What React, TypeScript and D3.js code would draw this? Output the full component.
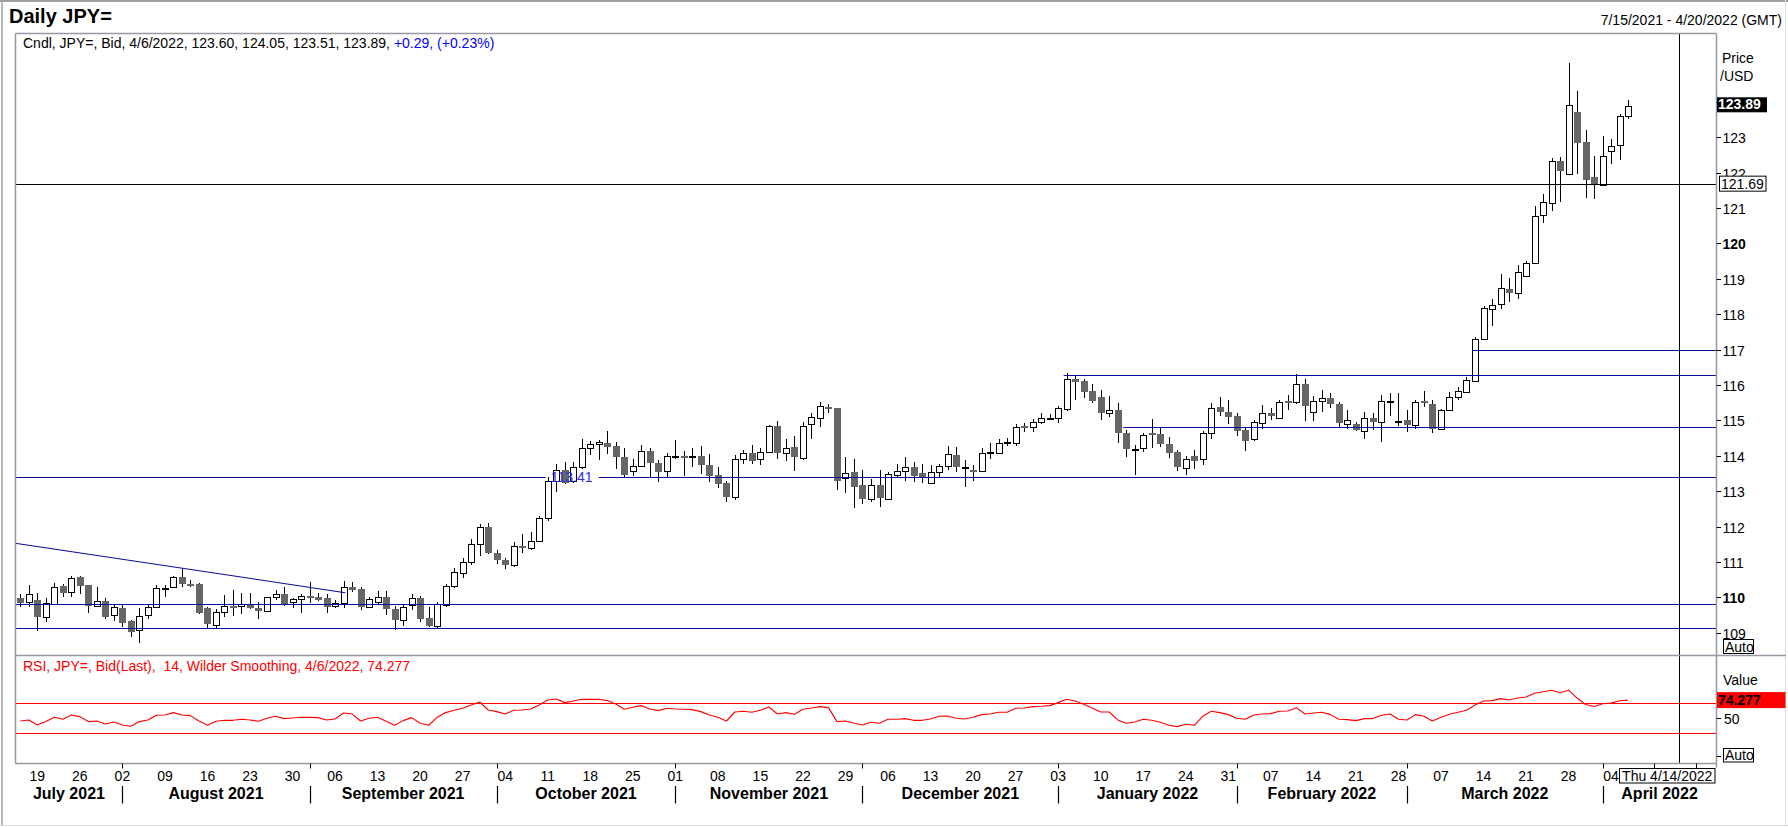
import * as d3 from "d3";

// Daily JPY= bid candles, one entry per weekday starting 7/15/2021
const startDay = new Date(2021, 6, 15);
const endDay = new Date(2022, 3, 20);
const cursorDay = new Date(2022, 3, 14);

const opens = [
  109.97, 109.86, 109.92, 109.43, 109.81, 110.32, 110.14, 110.57, 110.35, 109.75,
  109.89, 109.49, 109.69, 109.32, 109.07, 109.5, 109.74, 110.26, 110.28, 110.56,
  110.39, 110.39, 109.7, 109.22, 109.58, 109.76, 109.75, 109.8, 109.69, 109.62,
  110.0, 110.09, 109.86, 109.94, 110.05, 110.0, 109.97, 109.75, 109.85, 110.28,
  110.23, 109.72, 109.87, 110.0, 109.67, 109.36, 109.78, 109.97, 109.41, 109.2,
  109.78, 110.32, 110.68, 110.99, 111.5, 111.98, 111.26, 111.05, 110.92, 111.45,
  111.4, 111.6, 112.23, 113.29, 113.61, 113.29, 113.67, 114.21, 114.32, 114.36,
  114.27, 113.97, 113.58, 113.71, 114.13, 113.8, 113.58, 113.97, 113.98, 113.97,
  114.0, 113.74, 113.45, 113.24, 112.84, 113.92, 114.07, 113.9, 114.11, 114.84,
  114.07, 114.26, 113.95, 114.91, 115.08, 115.39, 115.36, 113.36, 113.53, 113.17,
  112.77, 113.17, 112.77, 113.45, 113.58, 113.67, 113.5, 113.24, 113.55, 113.72,
  114.02, 113.66, 113.61, 113.58, 114.09, 114.09, 114.37, 114.37, 114.85, 114.81,
  114.95, 115.06, 115.08, 115.31, 116.16, 116.12, 115.83, 115.66, 115.2, 115.29,
  114.63, 114.18, 114.21, 114.64, 114.62, 114.32, 114.1, 113.65, 113.99, 113.9,
  114.63, 115.37, 115.23, 115.12, 114.73, 114.46, 114.94, 115.21, 115.07, 115.54,
  115.51, 116.02, 115.24, 115.54, 115.62, 115.46, 114.91, 114.91, 114.71, 115.08,
  114.96, 115.54, 114.98, 115.01, 114.87, 115.55, 115.46, 114.77, 115.29, 115.67,
  115.81, 116.12, 117.31, 118.16, 118.3, 118.71, 118.59, 119.08, 119.46, 120.8,
  121.13, 122.34, 121.95, 123.71, 122.86, 121.87, 121.64, 122.6, 122.77, 123.6,
];
const highs = [
  110.08, 110.35, 110.11, 109.97, 110.41, 110.37, 110.6, 110.6, 110.36, 110.28,
  109.97, 109.81, 109.78, 109.36, 109.69, 109.81, 110.35, 110.35, 110.6, 110.82,
  110.49, 110.41, 109.73, 109.66, 110.06, 110.22, 110.13, 110.13, 109.88, 110.02,
  110.21, 110.28, 109.97, 110.09, 110.42, 110.11, 110.08, 109.93, 110.47, 110.44,
  110.3, 110.02, 110.18, 110.18, 109.75, 109.81, 110.08, 110.04, 109.73, 109.88,
  110.37, 110.82, 111.1, 111.64, 112.07, 112.11, 111.35, 111.1, 111.55, 111.8,
  111.85, 112.3, 113.41, 113.78, 113.83, 113.83, 114.47, 114.42, 114.44, 114.7,
  114.4, 114.21, 113.92, 114.3, 114.23, 113.88, 114.09, 114.44, 114.13, 114.21,
  114.27, 114.05, 113.69, 113.29, 114.02, 114.16, 114.3, 114.21, 114.87, 114.98,
  114.46, 114.56, 114.96, 115.2, 115.52, 115.46, 115.36, 113.97, 113.9, 113.61,
  113.33, 113.61, 113.55, 113.78, 113.97, 113.81, 113.78, 113.74, 113.76, 114.27,
  114.25, 113.88, 113.74, 114.21, 114.37, 114.46, 114.49, 114.91, 114.93, 115.03,
  115.2, 115.18, 115.4, 116.34, 116.25, 116.18, 116.04, 115.86, 115.68, 115.5,
  114.72, 114.3, 114.63, 115.05, 114.79, 114.54, 114.16, 113.99, 114.16, 114.7,
  115.5, 115.67, 115.59, 115.21, 114.8, 115.01, 115.43, 115.34, 115.59, 115.71,
  116.32, 116.18, 115.69, 115.87, 115.78, 115.53, 115.29, 114.96, 115.24, 115.21,
  115.71, 115.78, 115.78, 115.29, 115.57, 115.83, 115.57, 115.31, 115.81, 115.95,
  116.23, 117.36, 118.23, 118.44, 119.13, 119.01, 119.4, 119.5, 121.05, 121.41,
  122.42, 122.43, 125.11, 124.3, 123.2, 122.46, 123.03, 122.94, 123.67, 124.05,
];
const lows = [
  109.74, 109.72, 109.06, 109.31, 109.8, 110.0, 110.0, 110.09, 109.57, 109.73,
  109.4, 109.34, 109.17, 108.87, 108.72, 109.4, 109.69, 110.02, 110.27, 110.3,
  110.3, 109.54, 109.1, 109.14, 109.45, 109.48, 109.53, 109.66, 109.4, 109.59,
  109.93, 109.76, 109.71, 109.56, 109.85, 109.9, 109.57, 109.69, 109.69, 110.14,
  109.63, 109.69, 109.81, 109.5, 109.08, 109.19, 109.64, 109.3, 109.17, 109.12,
  109.73, 110.26, 110.54, 110.91, 111.17, 111.22, 110.95, 110.8, 110.85, 111.25,
  111.35, 111.55, 112.15, 112.98, 113.2, 113.22, 113.64, 114.02, 113.88, 114.06,
  113.64, 113.41, 113.43, 113.67, 113.39, 113.25, 113.39, 113.92, 113.43, 113.69,
  113.48, 113.27, 113.08, 112.7, 112.75, 113.76, 113.76, 113.75, 114.09, 113.92,
  113.86, 113.58, 113.88, 114.47, 114.82, 115.21, 113.03, 112.95, 112.51, 112.65,
  112.7, 112.54, 112.75, 113.4, 113.29, 113.25, 113.22, 113.22, 113.41, 113.6,
  113.55, 113.12, 113.29, 113.55, 113.92, 114.07, 114.27, 114.27, 114.68, 114.66,
  114.91, 115.0, 114.93, 115.27, 115.57, 115.62, 115.5, 115.01, 115.1, 114.37,
  113.97, 113.45, 114.11, 114.21, 114.24, 113.95, 113.58, 113.45, 113.64, 113.74,
  114.46, 115.12, 114.91, 114.56, 114.14, 114.42, 114.77, 115.01, 115.05, 115.29,
  115.46, 114.99, 114.99, 115.24, 115.34, 114.8, 114.77, 114.71, 114.46, 114.72,
  114.4, 115.12, 114.84, 114.68, 114.77, 115.37, 114.63, 114.75, 115.27, 115.57,
  115.76, 116.08, 117.27, 117.66, 118.16, 118.35, 118.44, 119.04, 119.43, 120.58,
  120.92, 121.17, 121.93, 121.96, 121.29, 121.25, 121.62, 122.24, 122.37, 123.51,
];
const closes = [
  109.85, 110.08, 109.45, 109.85, 110.28, 110.13, 110.54, 110.33, 109.76, 109.9,
  109.45, 109.72, 109.28, 109.03, 109.48, 109.74, 110.25, 110.27, 110.56, 110.37,
  110.38, 109.56, 109.24, 109.58, 109.75, 109.73, 109.81, 109.69, 109.62, 110.0,
  110.08, 109.8, 109.94, 110.03, 110.0, 109.93, 109.74, 109.83, 110.28, 110.21,
  109.72, 109.94, 110.0, 109.67, 109.36, 109.72, 109.97, 109.39, 109.2, 109.8,
  110.32, 110.72, 111.01, 111.5, 111.98, 111.26, 111.05, 110.92, 111.45, 111.4,
  111.6, 112.23, 113.29, 113.61, 113.24, 113.67, 114.21, 114.32, 114.38, 114.25,
  113.97, 113.45, 113.71, 114.14, 113.8, 113.55, 114.0, 113.98, 113.96, 113.98,
  113.74, 113.43, 113.2, 112.84, 113.9, 114.07, 113.86, 114.11, 114.84, 114.07,
  114.23, 113.97, 114.85, 115.1, 115.41, 115.37, 113.29, 113.52, 113.12, 112.77,
  113.17, 112.8, 113.48, 113.58, 113.67, 113.42, 113.39, 113.55, 113.72, 114.04,
  113.69, 113.67, 113.6, 114.09, 114.11, 114.37, 114.39, 114.82, 114.83, 114.95,
  115.06, 115.07, 115.34, 116.16, 116.09, 115.81, 115.54, 115.2, 115.28, 114.63,
  114.18, 114.19, 114.6, 114.6, 114.32, 114.08, 113.69, 113.92, 113.86, 114.63,
  115.34, 115.24, 115.1, 114.71, 114.42, 114.96, 115.2, 115.12, 115.53, 115.51,
  116.02, 115.4, 115.54, 115.62, 115.46, 114.93, 115.0, 114.73, 115.08, 114.96,
  115.54, 115.56, 114.99, 114.87, 115.51, 115.48, 114.77, 115.29, 115.67, 115.83,
  116.14, 117.29, 118.19, 118.27, 118.73, 118.59, 119.18, 119.46, 120.79, 121.16,
  122.34, 122.05, 123.91, 122.84, 121.79, 121.66, 122.48, 122.76, 123.6, 123.89,
];
// RSI(14), Wilder smoothing
const rsi14 = [
  46.4, 47.8, 41.1, 45.6, 51.3, 48.7, 54.4, 52.2, 45.6, 46.4,
  42.4, 45.1, 41.1, 39.3, 45.6, 47.8, 54.0, 54.4, 57.6, 54.4,
  53.6, 46.4, 40.7, 46.0, 47.3, 47.3, 48.7, 47.8, 46.0, 50.0,
  52.7, 49.6, 50.4, 51.3, 51.3, 50.9, 47.8, 49.1, 57.1, 55.8,
  46.4, 50.0, 51.3, 46.0, 40.7, 46.9, 50.9, 43.3, 40.7, 51.3,
  57.6, 60.7, 63.3, 67.8, 71.8, 61.1, 58.9, 55.8, 60.7, 61.1,
  62.4, 67.8, 74.4, 75.8, 70.9, 73.1, 75.3, 75.3, 75.3, 73.6,
  69.1, 62.0, 64.7, 66.9, 62.4, 60.2, 63.3, 62.4, 62.0, 61.6,
  58.9, 54.4, 51.3, 46.4, 58.4, 59.3, 58.0, 60.7, 65.1, 55.8,
  57.6, 55.3, 62.0, 63.8, 65.6, 64.2, 45.6, 46.4, 43.3, 41.1,
  44.7, 43.3, 48.7, 48.7, 49.6, 47.3, 47.3, 49.1, 52.7, 53.1,
  50.0, 49.1, 51.3, 54.9, 55.8, 58.0, 58.0, 63.3, 63.8, 65.6,
  66.0, 66.9, 70.9, 75.3, 73.1, 68.7, 63.8, 58.4, 58.4, 47.8,
  43.3, 45.1, 48.7, 47.3, 44.7, 40.7, 38.9, 42.0, 40.7, 52.7,
  59.3, 57.6, 54.9, 50.0, 48.7, 54.4, 55.8, 56.2, 59.3, 59.8,
  64.2, 55.8, 57.1, 58.0, 54.9, 48.7, 48.2, 46.9, 49.6, 49.6,
  54.0, 55.8, 48.7, 47.8, 54.9, 52.7, 46.4, 51.3, 55.3, 58.0,
  60.7, 67.8, 73.1, 73.6, 76.2, 74.4, 77.1, 78.4, 83.5, 85.5,
  87.5, 84.0, 87.5, 77.0, 68.4, 65.8, 69.5, 70.2, 73.4, 74.277,
];

const priceTicks = [109, 110, 111, 112, 113, 114, 115, 116, 117, 118, 119, 120, 121, 122, 123, 124];
const boldPriceTicks = [110, 120];
const rsiTicks = [0, 50];
const rsiLabelTicks = [50];
const rsiBands = [70, 30];

// drawn levels
const fullLevels = [113.41, 109.8, 109.12];
const labelledLevel = 113.41;
const labelledLevelDay = "2021-10-11";
const partialLevels = [116.27, 114.8, 117.0];
const partialLevelDays = ["2022-01-04", "2022-01-13", "2022-03-11"];
const markerLevel = 121.69;
const trendDayIdx = [-0.6, 38.2];
const trendPrices = [111.53, 110.13];

const FONT = "'Liberation Sans', Arial, Helvetica, sans-serif";
const W = 1788;
const H = 827;
const plotLeft = 15.5;
const plotRight = 1716.5;
const plotTop = 33.5;
const priceBottom = 655.5;
const rsiBottom = 763.5;
const paneStroke = "#9898a4";
const levelBlue = "#0c0c96";
const dateBox = { left: 1619.5, width: 95.5 };

const snap = (v: number) => Math.round(v) + 0.5;

export default function App() {
  const days = d3
    .timeDay.range(startDay, d3.timeDay.offset(endDay, 1))
    .filter((d) => d.getDay() !== 0 && d.getDay() !== 6);
  const key = d3.timeFormat("%Y-%m-%d");
  const indexOf = new Map(days.map((d, i) => [key(d), i]));

  const x = d3
    .scaleLinear()
    .domain([0, days.length - 1])
    .range([20.3, 20.3 + (days.length - 1) * 8.507]);
  const y = d3.scaleLinear().domain([109, 123]).range([632.7, 137.3]);
  const yR = d3.scaleLinear().domain([30, 70]).range([733.3, 703.3]);

  const last = closes.length - 1;
  const change = closes[last] - closes[last - 1];
  const pct = (change / closes[last - 1]) * 100;
  const lastDay = d3.timeFormat("%-m/%-d/%Y")(days[last]);
  const sign = (v: number) => (v >= 0 ? "+" : "");

  const mondays = days.map((d, i) => ({ d, i })).filter((o) => o.d.getDay() === 1);
  const monthStarts = days
    .map((d, i) => ({ d, i }))
    .filter((o) => o.i > 0 && o.d.getMonth() !== days[o.i - 1].getMonth());
  const monthEdges = [plotLeft, ...monthStarts.map((m) => x(m.i)), plotRight];
  const monthNames = [days[0], ...monthStarts.map((m) => m.d)];
  const monthFmt = d3.timeFormat("%B %Y");
  const futureMondays = mondays.filter((m) => m.i > last);
  // labels sitting fully under the cursor date box are not shown
  const shownMondays = mondays.filter((m) => x(m.i) - 8 < dateBox.left);

  const rsiLine = d3
    .line<number>()
    .x((_, i) => x(i))
    .y((v) => yR(v))(rsi14);

  const trendLine = d3
    .line<number>()
    .x((v) => x(v))
    .y((_, i) => y(trendPrices[i]))(trendDayIdx);

  const cursorIdx = indexOf.get(key(cursorDay)) ?? last;
  const cursorX = snap(x(cursorIdx));

  const labelX = x(indexOf.get(labelledLevelDay) ?? 0) + 3;
  const labelY = y(labelledLevel);
  const labelGap: [number, number] = [labelX - 5, labelX + 48];

  const lastY = y(closes[last]);
  const markerY = y(markerLevel);
  const rsiLastY = yR(rsi14[last]);
  // price labels hidden behind the last-price box
  const shownPriceLabels = priceTicks.filter((t) => Math.abs(y(t) - lastY) > 10);

  return (
    <svg
      width={W}
      height={H}
      viewBox={`0 0 ${W} ${H}`}
      style={{ position: "absolute", left: 0, top: 0, display: "block", background: "#fff" }}
      fontFamily={FONT}
    >
      <rect x={0} y={0} width={W} height={H} fill="#fff" />
      {/* outer frame */}
      <line x1={0} x2={W} y1={1} y2={1} stroke="#a0a0a0" strokeWidth={2} />
      <line x1={2} x2={2} y1={0} y2={826} stroke="#a0a0a0" strokeWidth={1.5} />
      <line x1={0} x2={W} y1={825.5} y2={825.5} stroke="#dcdcdc" />
      <line x1={1785.5} x2={1785.5} y1={0} y2={826} stroke="#dcdcdc" />

      <text x={9} y={23} fontSize={20} fontWeight="bold" fill="#000">
        Daily JPY=
      </text>
      <text x={1782} y={25} fontSize={14} textAnchor="end" fill="#000">
        {`${d3.timeFormat("%-m/%-d/%Y")(days[0])} - ${d3.timeFormat("%-m/%-d/%Y")(days[days.length - 1])} (GMT)`}
      </text>

      {/* candles */}
      <g>
        {closes.map((c, i) => {
          const o = opens[i];
          const up = c >= o;
          const rc = Math.round(x(i));
          const top = Math.round(y(Math.max(o, c)));
          const bot = Math.round(y(Math.min(o, c)));
          return (
            <g key={i}>
              <line
                x1={rc + 0.5}
                x2={rc + 0.5}
                y1={Math.round(y(highs[i]))}
                y2={Math.round(y(lows[i]))}
                stroke="#000"
                strokeWidth={1}
              />
              {up ? (
                <rect
                  x={rc - 2.5}
                  y={top + 0.5}
                  width={6}
                  height={Math.max(bot - top, 1)}
                  fill="#fff"
                  stroke="#000"
                  strokeWidth={1}
                />
              ) : (
                <rect x={rc - 3} y={top} width={7} height={Math.max(bot - top, 2)} fill="#666666" />
              )}
            </g>
          );
        })}
      </g>

      {/* levels */}
      {fullLevels.map((lv) => {
        const ly = snap(y(lv));
        if (lv === labelledLevel) {
          return (
            <g key={lv}>
              <line x1={plotLeft} x2={labelGap[0]} y1={ly} y2={ly} stroke={levelBlue} strokeWidth={1.2} />
              <line x1={labelGap[1]} x2={plotRight} y1={ly} y2={ly} stroke={levelBlue} strokeWidth={1.2} />
            </g>
          );
        }
        return <line key={lv} x1={plotLeft} x2={plotRight} y1={ly} y2={ly} stroke={levelBlue} strokeWidth={1.2} />;
      })}
      {partialLevels.map((lv, k) => {
        const ly = snap(y(lv));
        const sx = x(indexOf.get(partialLevelDays[k]) ?? 0) - 3;
        return <line key={lv} x1={sx} x2={plotRight} y1={ly} y2={ly} stroke={levelBlue} strokeWidth={1.2} />;
      })}
      <path d={trendLine ?? ""} fill="none" stroke={levelBlue} strokeWidth={1.1} />
      <text x={labelX} y={labelY + 5} fontSize={14} fill="#2a2ae0">
        {labelledLevel.toFixed(2)}
      </text>
      <line x1={plotLeft} x2={plotRight} y1={snap(markerY)} y2={snap(markerY)} stroke="#000" strokeWidth={1} />

      {/* RSI */}
      {rsiBands.map((b) => (
        <line key={b} x1={plotLeft} x2={plotRight} y1={snap(yR(b))} y2={snap(yR(b))} stroke="#ff0000" strokeWidth={1.2} />
      ))}
      <path d={rsiLine ?? ""} fill="none" stroke="#ff0000" strokeWidth={1.1} strokeLinejoin="round" />

      {/* cursor */}
      <line x1={cursorX} x2={cursorX} y1={plotTop} y2={rsiBottom} stroke="#000" strokeWidth={1} />

      {/* pane frames */}
      <line x1={plotLeft} x2={plotRight} y1={plotTop} y2={plotTop} stroke={paneStroke} strokeWidth={1.5} />
      <line x1={plotLeft} x2={plotLeft} y1={plotTop} y2={rsiBottom} stroke={paneStroke} strokeWidth={1.5} />
      <line x1={plotRight} x2={plotRight} y1={plotTop} y2={rsiBottom + 4} stroke={paneStroke} strokeWidth={1.5} />
      <line x1={plotLeft} x2={1786} y1={priceBottom} y2={priceBottom} stroke={paneStroke} strokeWidth={1.5} />
      <line x1={plotLeft} x2={plotRight} y1={rsiBottom} y2={rsiBottom} stroke={paneStroke} strokeWidth={1.5} />

      {/* legends */}
      <text x={23} y={48} fontSize={14} fill="#000">
        {`Cndl, JPY=, Bid, ${lastDay}, ${opens[last].toFixed(2)}, ${highs[last].toFixed(2)}, ${lows[last].toFixed(2)}, ${closes[last].toFixed(2)}, `}
        <tspan fill="#0000ff">{`${sign(change)}${change.toFixed(2)}, (${sign(pct)}${pct.toFixed(2)}%)`}</tspan>
      </text>
      <text x={23} y={671} fontSize={14} fill="#ff0000" style={{ whiteSpace: "pre" }}>
        {`RSI, JPY=, Bid(Last),  14, Wilder Smoothing, ${lastDay}, ${rsi14[last].toFixed(3)}`}
      </text>

      {/* price axis */}
      <text x={1722} y={63} fontSize={14} fill="#000">Price</text>
      <text x={1720} y={81} fontSize={14} fill="#000">/USD</text>
      {priceTicks.map((t) => {
        const ty = snap(y(t));
        return (
          <g key={t}>
            <line x1={plotRight} x2={1721} y1={ty} y2={ty} stroke="#000" />
            {shownPriceLabels.includes(t) ? (
              <text
                x={1722.5}
                y={ty + 5}
                fontSize={14}
                fontWeight={boldPriceTicks.includes(t) ? "bold" : "normal"}
                fill="#000"
              >
                {t}
              </text>
            ) : null}
          </g>
        );
      })}
      <rect x={1717} y={lastY - 8.5} width={50} height={15} fill="#000" />
      <text x={1718} y={lastY + 3} fontSize={14} fontWeight="bold" fill="#fff">
        {closes[last].toFixed(2)}
      </text>
      <rect x={1719.5} y={markerY - 7.5} width={46.5} height={15} fill="#fff" stroke="#000" />
      <text x={1721} y={markerY + 5} fontSize={14} fill="#000">
        {markerLevel.toFixed(2)}
      </text>
      <rect x={1723.5} y={639.5} width={30} height={14} fill="#fff" stroke="#000" />
      <text x={1725} y={651.5} fontSize={14} fill="#000">Auto</text>

      {/* RSI axis */}
      <text x={1723} y={685} fontSize={14} fill="#000">Value</text>
      {rsiTicks.map((t) => {
        const ty = snap(yR(t));
        return (
          <g key={t}>
            <line x1={plotRight} x2={1721} y1={ty} y2={ty} stroke="#000" />
            {rsiLabelTicks.includes(t) ? (
              <text x={1724} y={ty + 5} fontSize={14} fill="#000">
                {t}
              </text>
            ) : null}
          </g>
        );
      })}
      <rect x={1717} y={rsiLastY - 8} width={68.5} height={16} fill="#ff0000" />
      <text x={1718} y={rsiLastY + 5} fontSize={14} fontWeight="bold" fill="#000">
        {rsi14[last].toFixed(3)}
      </text>
      <rect x={1723.5} y={748.5} width={30} height={13.5} fill="#fff" stroke="#000" />
      <text x={1725} y={760} fontSize={14} fill="#000">Auto</text>

      {/* date axis */}
      {monthStarts.map((m) => (
        <g key={`ms${m.i}`}>
          <line x1={snap(x(m.i))} x2={snap(x(m.i))} y1={rsiBottom} y2={768.5} stroke="#000" />
          <line x1={snap(x(m.i))} x2={snap(x(m.i))} y1={786} y2={803.5} stroke="#000" strokeWidth={1.2} />
        </g>
      ))}
      {futureMondays.map((m) => (
        <line key={`fm${m.i}`} x1={snap(x(m.i))} x2={snap(x(m.i))} y1={rsiBottom} y2={768.5} stroke="#000" />
      ))}
      {shownMondays.map((m) => (
        <text key={`d${m.i}`} x={x(m.i)} y={780.5} fontSize={14} textAnchor="middle" fill="#000">
          {d3.timeFormat("%d")(m.d)}
        </text>
      ))}
      {monthNames.map((d, k) => (
        <text
          key={`mn${k}`}
          x={(monthEdges[k] + monthEdges[k + 1]) / 2}
          y={799}
          fontSize={16}
          fontWeight="bold"
          textAnchor="middle"
          fill="#000"
        >
          {monthFmt(d)}
        </text>
      ))}
      <rect x={dateBox.left} y={768.5} width={dateBox.width} height={14.5} fill="#fff" stroke="#000" />
      <text x={dateBox.left + dateBox.width / 2} y={780.5} fontSize={14} textAnchor="middle" fill="#000">
        {d3.timeFormat("%a %-m/%-d/%Y")(cursorDay)}
      </text>
    </svg>
  );
}
